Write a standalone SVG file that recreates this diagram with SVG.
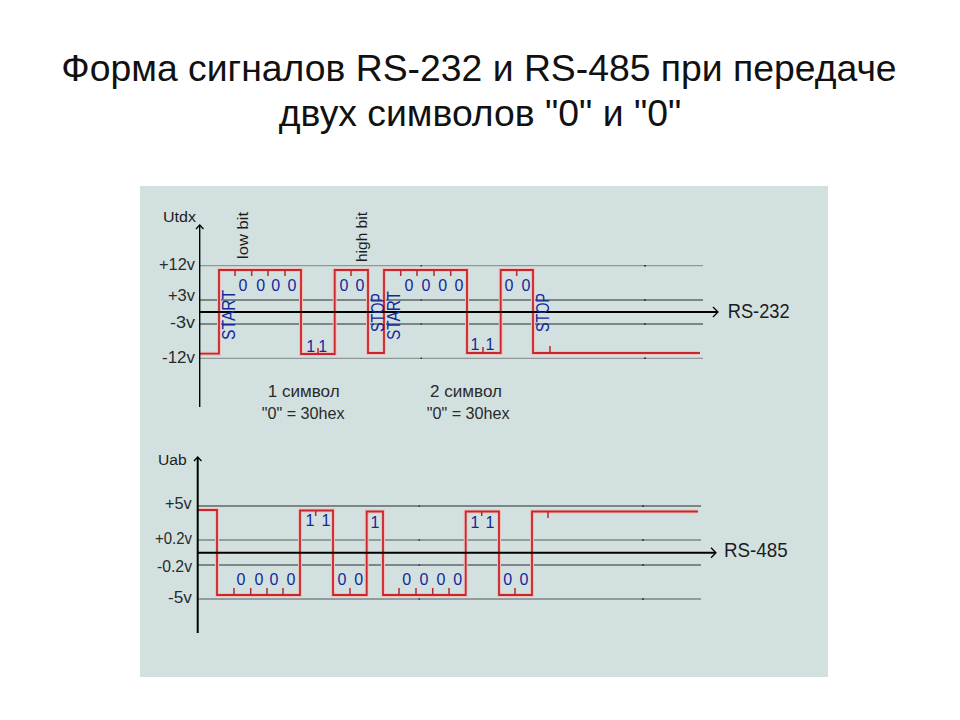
<svg xmlns="http://www.w3.org/2000/svg" width="960" height="720" viewBox="0 0 960 720">
<style>
text{font-family:"Liberation Sans",Arial,sans-serif}
.t{font-size:37.35px;fill:#111;text-anchor:middle}
.g{stroke:#7c8685;fill:none}
.ax{stroke:#000;stroke-width:2;fill:none}
.axt{stroke:#000;stroke-width:1.4;fill:none}
.ah{stroke:#000;stroke-width:1.3;fill:none}
.halo{stroke:#ecc0bd;stroke-width:4;fill:none}
.sig{stroke:#c8262c;stroke-width:1.8;fill:none}
.tick{stroke:#b8282c;stroke-width:1.5;fill:none}
.dot{stroke:#333;stroke-width:1.5;fill:none}
.b{font-size:16px;fill:#14289c;text-anchor:middle}
.v{font-size:17.5px;fill:#14289c}
.k{font-size:17px;fill:#2a2a2a}
.n{font-size:15.5px;fill:#1c1c1c}
.r{font-size:21px;fill:#1c1c1c}
</style>
<rect width="960" height="720" fill="#fff"/>
<rect x="140" y="186" width="688" height="491" fill="#d2e1e0"/>
<g id="title">
<text class="t" x="479" y="81">Форма сигналов RS-232 и RS-485 при передаче</text>
<text class="t" x="480" y="126">двух символов "0" и "0"</text>
</g>
<g id="rs232-grid">
<path class="g" d="M199 265.700H703M199 358.300H703"/>
<path class="g" stroke-width="2" d="M199 300H703M199 324H703"/>
<path class="dot" d="M420.500 265.700h1.500M420.500 300h1.500M420.500 324h1.500M420.500 358.300h1.500M644 265.700h2M644 300h2M644 324h2M644 358.300h2"/>
</g>
<g id="rs232-signal">
<path class="halo" d="M200 353.700H219V270H301V354H334.700V270H368V353H384V270H467V353H500.700V270H533V353H700"/>
<path class="sig" d="M200 353.700H219V270H301V354H334.700V270H368V353H384V270H467V353H500.700V270H533V353H700"/>
<path class="tick" d="M235 270v6M251.700 270v6M268 270v6M285 270v6M351 270v6M400.700 270v6M417 270v6M434 270v6M450.700 270v6M516.700 270v6M318 354v-6M483 353v-6M550 353v-7"/>
</g>
<g id="rs232-axes">
<path class="axt" d="M199.700 407V225"/>
<path class="ah" d="M196 229L199.700 225L203.500 229"/>
<path class="ax" d="M199 312H717"/>
<path class="ah" d="M713 307L718 312L713 317"/>
</g>
<g id="rs232-labels">
<text class="n" x="163" y="221.500" textLength="33" lengthAdjust="spacingAndGlyphs">Utdx</text>
<text class="k" x="159" y="270" textLength="36" lengthAdjust="spacingAndGlyphs">+12v</text>
<text class="k" x="168" y="301" textLength="27" lengthAdjust="spacingAndGlyphs">+3v</text>
<text class="k" x="170" y="328" textLength="25" lengthAdjust="spacingAndGlyphs">-3v</text>
<text class="k" x="162" y="363" textLength="33" lengthAdjust="spacingAndGlyphs">-12v</text>
<text class="n" transform="translate(247.700 259) rotate(-90)" textLength="47" lengthAdjust="spacingAndGlyphs">low bit</text>
<text class="n" transform="translate(366.700 262) rotate(-90)" textLength="50" lengthAdjust="spacingAndGlyphs">high bit</text>
<text class="v" transform="translate(235 340) rotate(-90)" textLength="50" lengthAdjust="spacingAndGlyphs">START</text>
<text class="v" transform="translate(384.300 332) rotate(-90)" textLength="39" lengthAdjust="spacingAndGlyphs">STOP</text>
<text class="v" transform="translate(400 340) rotate(-90)" textLength="49" lengthAdjust="spacingAndGlyphs">START</text>
<text class="v" transform="translate(549 332) rotate(-90)" textLength="39" lengthAdjust="spacingAndGlyphs">STOP</text>
<text class="b" x="243" y="291">0</text><text class="b" x="260.700" y="291">0</text><text class="b" x="275.700" y="291">0</text><text class="b" x="292" y="291">0</text>
<text class="b" x="344" y="291">0</text><text class="b" x="360" y="291">0</text>
<text class="b" x="409" y="291">0</text><text class="b" x="426" y="291">0</text><text class="b" x="442.700" y="291">0</text><text class="b" x="459" y="291">0</text>
<text class="b" x="509" y="291">0</text><text class="b" x="526" y="291">0</text>
<text class="b" x="310.700" y="352">1</text><text class="b" x="322.700" y="352">1</text>
<text class="b" x="475" y="350">1</text><text class="b" x="490" y="350">1</text>
<text class="k" x="267.700" y="397" textLength="72" lengthAdjust="spacingAndGlyphs">1 символ</text>
<text class="k" x="261.700" y="419" textLength="83" lengthAdjust="spacingAndGlyphs">"0" = 30hex</text>
<text class="k" x="430" y="396.700" textLength="72" lengthAdjust="spacingAndGlyphs">2 символ</text>
<text class="k" x="426.700" y="419" textLength="83" lengthAdjust="spacingAndGlyphs">"0" = 30hex</text>
<text class="r" x="727.700" y="318" textLength="62" lengthAdjust="spacingAndGlyphs">RS-232</text>
</g>
<g id="rs485-grid">
<path class="g" stroke-width="2" d="M197 506H701M197 565H701"/>
<path class="g" stroke-width="1.300" d="M197 540H701M197 599H701"/>
<path class="dot" d="M418.500 506h1.500M418.500 540h1.500M418.500 565h1.500M418.500 599h1.500M642 506h2M642 540h2M642 565h2M642 599h2"/>
</g>
<g id="rs485-signal">
<path class="halo" d="M198 510H217V595H300V510.500H333V595H366.700V511.500H383V595H465.700V511.500H499V595H532V511.500H698"/>
<path class="sig" d="M198 510H217V595H300V510.500H333V595H366.700V511.500H383V595H465.700V511.500H499V595H532V511.500H698"/>
<path class="tick" d="M234 595v-7M250.700 595v-7M267 595v-7M283 595v-7M350 595v-7M399 595v-7M416 595v-7M432.700 595v-7M449 595v-7M515 595v-7M315.700 511v5M481.700 511v5M548 511v7"/>
</g>
<g id="rs485-axes">
<path class="ax" d="M197.700 633V458"/>
<path class="ah" d="M194 461L197.700 457L201.500 461"/>
<path class="ax" d="M197 552.700H715"/>
<path class="ah" d="M711 547.700L716 552.700L711 557.700"/>
</g>
<g id="rs485-labels">
<text class="n" x="158" y="465" textLength="28.700" lengthAdjust="spacingAndGlyphs">Uab</text>
<text class="k" x="165" y="509" textLength="26.700" lengthAdjust="spacingAndGlyphs">+5v</text>
<text class="k" x="155" y="544" textLength="37" lengthAdjust="spacingAndGlyphs">+0.2v</text>
<text class="k" x="157" y="571.700" textLength="35" lengthAdjust="spacingAndGlyphs">-0.2v</text>
<text class="k" x="168" y="603" textLength="24" lengthAdjust="spacingAndGlyphs">-5v</text>
<text class="b" x="241" y="585">0</text><text class="b" x="259" y="585">0</text><text class="b" x="274" y="585">0</text><text class="b" x="291" y="585">0</text>
<text class="b" x="342" y="585">0</text><text class="b" x="358.700" y="585">0</text>
<text class="b" x="406.700" y="585">0</text><text class="b" x="424" y="585">0</text><text class="b" x="441" y="585">0</text><text class="b" x="457.700" y="585">0</text>
<text class="b" x="507.700" y="585">0</text><text class="b" x="524" y="585">0</text>
<text class="b" x="310" y="526">1</text><text class="b" x="326" y="526">1</text>
<text class="b" x="375" y="528">1</text>
<text class="b" x="475" y="527.700">1</text><text class="b" x="490" y="527.700">1</text>
<text class="r" x="724" y="557" textLength="63.700" lengthAdjust="spacingAndGlyphs">RS-485</text>
</g>
</svg>
